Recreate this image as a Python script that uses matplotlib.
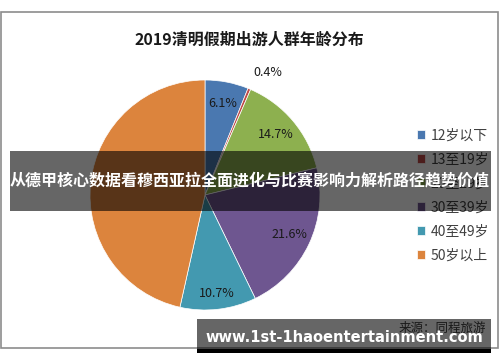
import numpy as np
import matplotlib.pyplot as plt
from matplotlib.patches import Rectangle

plt.rcParams['font.family'] = ['Noto Sans CJK SC', 'DejaVu Sans']

title = '2019清明假期出游人群年龄分布'
groups = ['12岁以下', '13至19岁', '20至29岁', '30至39岁', '40至49岁', '50岁以上']
shares = [6.1, 0.4, 14.7, 21.6, 10.7, 46.5]
colors = ['#4a78b0', '#bf4a48', '#8db04f', '#6e5690', '#4399b0', '#dc843d']
source = '来源：同程旅游'
banner = '从德甲核心数据看穆西亚拉全面进化与比赛影响力解析路径趋势价值'
site = 'www.1st-1haoentertainment.com'

W, H = 500, 362
fig = plt.figure(figsize=(W / 100, H / 100), dpi=100)

def fx(px):
    return px / W

def fy(py):
    return 1 - py / H

# chart frame
fig.add_artist(Rectangle((fx(0.5), fy(348)), fx(497), 336 / H, transform=fig.transFigure,
                         fill=False, edgecolor='#8c8c8c', lw=1.2))

fig.text(fx(249), fy(40), title, ha='center', va='center', fontsize=11.5,
         fontweight='bold', color='#1a1a1a')

ax = fig.add_axes([fx(90), fy(310), fx(230), 230 / H])
wedges, texts, autotexts = ax.pie(shares, colors=colors, startangle=90, counterclock=False,
                                  autopct='%.1f%%', pctdistance=0.81,
                                  wedgeprops=dict(edgecolor='white', linewidth=0.5),
                                  textprops=dict(fontsize=9, color='#1a1a1a'))
ax.set_xlim(-1, 1)
ax.set_ylim(-1, 1)
ax.set_aspect('equal')

# small slice label sits outside, the big one is hidden behind the banner
w = wedges[1]
ang = np.deg2rad((w.theta1 + w.theta2) / 2)
autotexts[1].set_position((1.15 * np.cos(ang) + 0.1, 1.15 * np.sin(ang)))
autotexts[4].set_position(np.array(autotexts[4].get_position()) * 1.07)
autotexts[5].set_visible(False)

fig.legend(wedges, groups, loc='upper left', bbox_to_anchor=(fx(404), fy(116)),
           frameon=False, handlelength=0.6, handleheight=0.6, handletextpad=0.4,
           labelspacing=0.72, fontsize=10, labelcolor='#404040')

fig.text(fx(486), fy(328), source, ha='right', va='center', fontsize=9, color='#404040')

# overlay banners
fig.add_artist(Rectangle((fx(10), fy(211)), fx(481), 60 / H, transform=fig.transFigure,
                         facecolor='black', alpha=0.6, lw=0, zorder=10))
fig.text(fx(250), fy(181), banner, ha='center', va='center', fontsize=11.5,
         fontweight='bold', color='white', zorder=11)

fig.add_artist(Rectangle((fx(197), fy(349)), fx(294), 30 / H, transform=fig.transFigure,
                         facecolor='black', alpha=0.6, lw=0, zorder=10))
fig.add_artist(Rectangle((fx(197), fy(353)), fx(294), 4 / H, transform=fig.transFigure,
                         facecolor='black', lw=0, zorder=10))
fig.text(fx(344), fy(337), site, ha='center', va='center', fontsize=10.5,
         fontweight='bold', color='white', zorder=11, family='DejaVu Sans')

fig.savefig('out.png', dpi=100)
